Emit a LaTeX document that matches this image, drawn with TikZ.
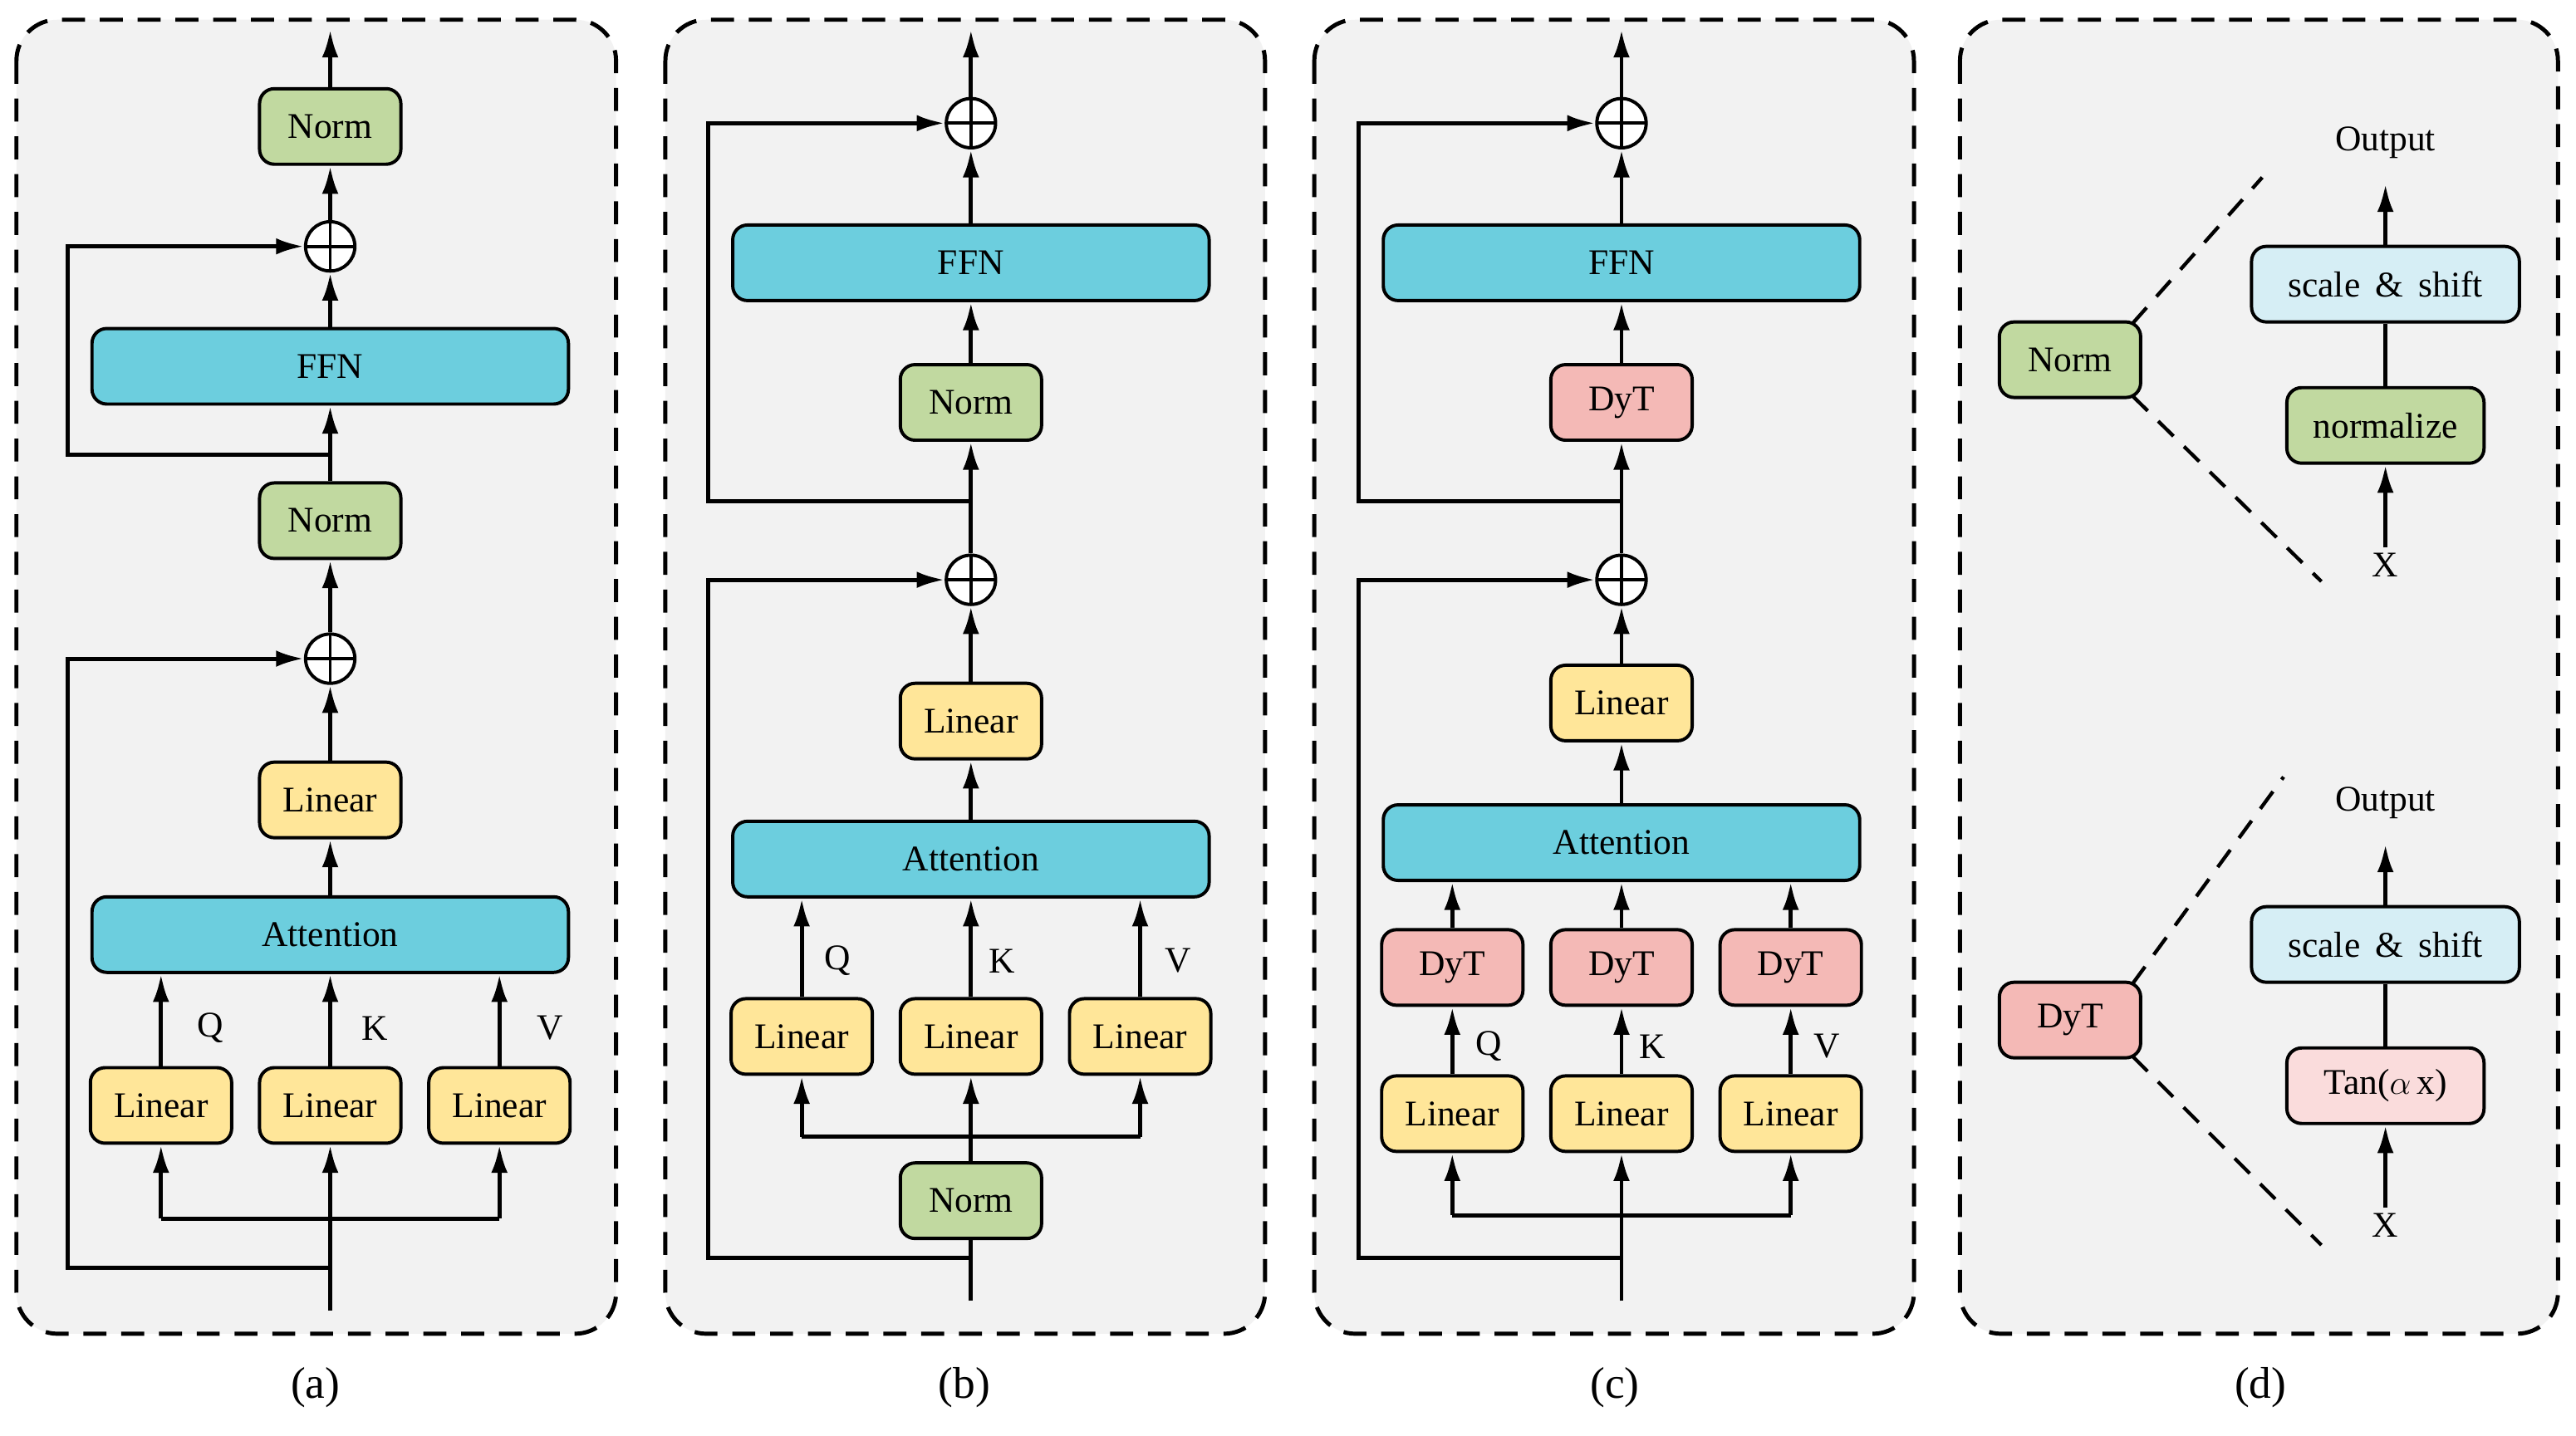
\documentclass[tikz,border=0pt]{standalone}
\usepackage{fontspec}
\setmainfont{Liberation Serif}
\usetikzlibrary{arrows.meta}
\definecolor{bg}{HTML}{F2F2F2}
\definecolor{gr}{HTML}{C1D9A0}
\definecolor{bl}{HTML}{6CCEDE}
\definecolor{ye}{HTML}{FFE699}
\definecolor{rd}{HTML}{F4B9B6}
\definecolor{lb}{HTML}{D6EEF5}
\definecolor{lp}{HTML}{FADCDC}
\begin{document}
\begin{tikzpicture}[x=1pt,y=-1pt,
  panel/.style={draw, line width=2.5pt, dash pattern=on 14pt off 9pt, rounded corners=25pt, fill=bg},
  box/.style={draw, line width=2pt, rounded corners=9pt, minimum height=46pt, minimum width=86pt, inner sep=0pt, font=\fontsize{22}{26}\selectfont},
  wide/.style={box, minimum width=290pt},
  G/.style={box, fill=gr}, Y/.style={box, fill=ye}, R/.style={box, fill=rd},
  B/.style={wide, fill=bl},
  plus/.style={circle, draw, line width=2pt, fill=white, minimum size=30pt, inner sep=0pt,
    path picture={\draw[line width=2pt] (path picture bounding box.north)--(path picture bounding box.south) (path picture bounding box.west)--(path picture bounding box.east);}},
  ln/.style={line width=2.5pt},
  arr/.style={ln, -{Latex[length=17pt,width=10pt]}},
  dl/.style={line width=2.2pt, dash pattern=on 13pt off 9pt},
  lab/.style={font=\fontsize{22}{26}\selectfont},
  pcap/.style={font=\fontsize{27}{32}\selectfont}]
\useasboundingbox (0,0) rectangle (1568,874);
\fill[white] (0,0) rectangle (1568,874);
\draw[panel] (10,12) rectangle (375,812);
\draw[panel] (405,12) rectangle (770,812);
\draw[panel] (800,12) rectangle (1165,812);
\draw[panel] (1193,12) rectangle (1557,812);
\node[pcap] (ca) at (192,845) {(a)};
\node[pcap] (cb) at (587,845) {(b)};
\node[pcap] (cc) at (983,845) {(c)};
\node[pcap] (cd) at (1376,845) {(d)};

% ---------- (a)
\node[G] (aN2) at (201,77) {Norm};
\node[plus] (aP2) at (201,150) {};
\node[B] (aF) at (201,223) {FFN};
\node[G] (aN1) at (201,317) {Norm};
\node[plus] (aP1) at (201,401) {};
\node[Y] (aL) at (201,487) {Linear};
\node[B] (aA) at (201,569) {Attention};
\node[Y] (aLq) at (98,673) {Linear};
\node[Y] (aLk) at (201,673) {Linear};
\node[Y] (aLv) at (304,673) {Linear};
\node[lab] (aQ) at (128,626) {Q};
\node[lab] (aK) at (228,626) {K};
\node[lab] (aV) at (335,626) {V};
\coordinate (aIn) at (201,798);
\coordinate (aOut) at (201,18);
\coordinate (aS1) at (201,772);
\coordinate (aS2) at (201,277);
\draw[arr] (aIn) -- (aLk);
\draw[ln] (98,742) -- (304,742);
\draw[arr] (98,742) -- (aLq);
\draw[arr] (304,742) -- (aLv);
\draw[arr] (aLq) -- (aLq|-aA.south);
\draw[arr] (aLk) -- (aA);
\draw[arr] (aLv) -- (aLv|-aA.south);
\draw[arr] (aA) -- (aL);
\draw[arr] (aL) -- (aP1);
\draw[arr] (aP1) -- (aN1);
\draw[arr] (aN1) -- (aF);
\draw[arr] (aF) -- (aP2);
\draw[arr] (aP2) -- (aN2);
\draw[arr] (aN2) -- (aOut);
\draw[arr] (aS1) -- (41,772) |- (aP1);
\draw[arr] (aS2) -- (41,277) |- (aP2);

% ---------- (b)
\node[plus] (bP2) at (591,75) {};
\node[B] (bF) at (591,160) {FFN};
\node[G] (bN1) at (591,245) {Norm};
\node[plus] (bP1) at (591,353) {};
\node[Y] (bL) at (591,439) {Linear};
\node[B] (bA) at (591,523) {Attention};
\node[Y] (bLq) at (488,631) {Linear};
\node[Y] (bLk) at (591,631) {Linear};
\node[Y] (bLv) at (694,631) {Linear};
\node[lab] (bQ) at (510,585) {Q};
\node[lab] (bK) at (610,585) {K};
\node[lab] (bV) at (717,585) {V};
\node[G] (bN0) at (591,731) {Norm};
\coordinate (bIn) at (591,792);
\coordinate (bOut) at (591,18);
\draw[ln] (bIn) -- (bN0);
\draw[ln] (bN0) -- (591,692);
\draw[ln] (488,692) -- (694,692);
\draw[arr] (488,692) -- (bLq);
\draw[arr] (591,692) -- (bLk);
\draw[arr] (694,692) -- (bLv);
\draw[arr] (bLq) -- (bLq|-bA.south);
\draw[arr] (bLk) -- (bA);
\draw[arr] (bLv) -- (bLv|-bA.south);
\draw[arr] (bA) -- (bL);
\draw[arr] (bL) -- (bP1);
\draw[arr] (bP1) -- (bN1);
\draw[arr] (bN1) -- (bF);
\draw[arr] (bF) -- (bP2);
\draw[arr] (bP2) -- (bOut);
\draw[arr] (591,766) -- (431,766) |- (bP1);
\draw[arr] (591,305) -- (431,305) |- (bP2);

% ---------- (c)
\node[plus] (cP2) at (987,75) {};
\node[B] (cF) at (987,160) {FFN};
\node[R] (cD) at (987,245) {DyT};
\node[plus] (cP1) at (987,353) {};
\node[Y] (cL) at (987,428) {Linear};
\node[B] (cA) at (987,513) {Attention};
\node[R] (cDq) at (884,589) {DyT};
\node[R] (cDk) at (987,589) {DyT};
\node[R] (cDv) at (1090,589) {DyT};
\node[Y] (cLq) at (884,678) {Linear};
\node[Y] (cLk) at (987,678) {Linear};
\node[Y] (cLv) at (1090,678) {Linear};
\node[lab] (cQ) at (906,637) {Q};
\node[lab] (cK) at (1006,637) {K};
\node[lab] (cV) at (1112,637) {V};
\coordinate (cIn) at (987,792);
\coordinate (cOut) at (987,18);
\draw[arr] (cIn) -- (cLk);
\draw[ln] (884,740) -- (1090,740);
\draw[arr] (884,740) -- (cLq);
\draw[arr] (1090,740) -- (cLv);
\draw[arr] (cLq) -- (cDq);
\draw[arr] (cLk) -- (cDk);
\draw[arr] (cLv) -- (cDv);
\draw[arr] (cDq) -- (cDq|-cA.south);
\draw[arr] (cDk) -- (cA);
\draw[arr] (cDv) -- (cDv|-cA.south);
\draw[arr] (cA) -- (cL);
\draw[arr] (cL) -- (cP1);
\draw[arr] (cP1) -- (cD);
\draw[arr] (cD) -- (cF);
\draw[arr] (cF) -- (cP2);
\draw[arr] (cP2) -- (cOut);
\draw[arr] (987,766) -- (827,766) |- (cP1);
\draw[arr] (987,305) -- (827,305) |- (cP2);

% ---------- (d)
\node[G] (dN) at (1260,219) {Norm};
\node[lab] (dO1) at (1452,87) {Output};
\node[box, fill=lb, minimum width=163pt] (dS1) at (1452,173) {scale \,\&\, shift};
\node[G, minimum width=120pt] (dNz) at (1452,259) {normalize};
\node[lab] (dX1) at (1452,344) {X};
\draw[arr] (dS1) -- (1452,112);
\draw[ln] (dNz) -- (dS1);
\draw[arr] (dX1) -- (dNz);
\draw[dl] (dN.north east) ++(-6,2) -- (1377,108);
\draw[dl] (dN.south east) ++(-6,-2) -- (1413,354);

\node[R] (dD) at (1260,621) {DyT};
\node[lab] (dO2) at (1452,489) {Output};
\node[box, fill=lb, minimum width=163pt] (dS2) at (1452,575) {scale \,\&\, shift};
\node[box, fill=lp, minimum width=120pt] (dT) at (1452,661) {Tan($\alpha$\,x)};
\node[lab] (dX2) at (1452,746) {X};
\draw[arr] (dS2) -- (1452,514);
\draw[ln] (dT) -- (dS2);
\draw[arr] (dX2) -- (dT);
\draw[dl] (dD.north east) ++(-6,2) -- (1390,473);
\draw[dl] (dD.south east) ++(-6,-2) -- (1413,758);
\end{tikzpicture}
\end{document}
